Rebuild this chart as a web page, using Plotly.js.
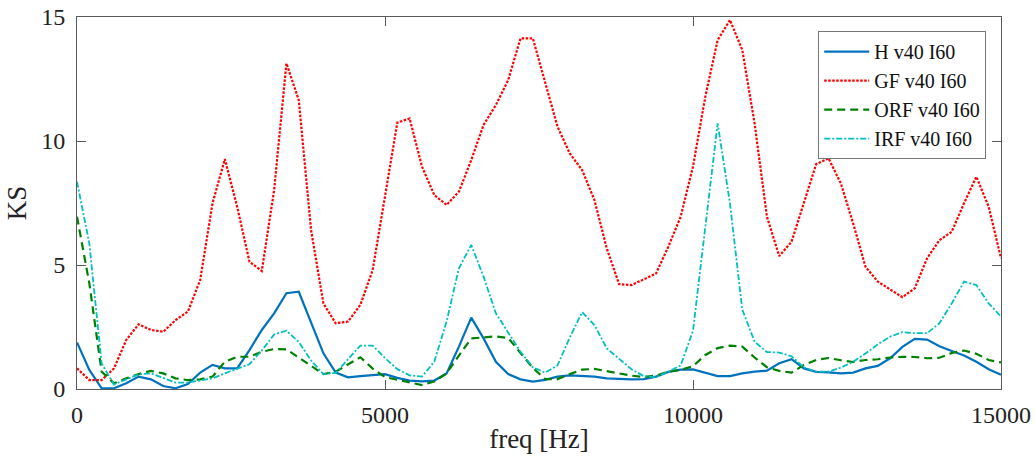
<!DOCTYPE html>
<html>
<head>
<meta charset="utf-8">
<script src="https://cdn.plot.ly/plotly-3.0.1.min.js"></script>
<style>html,body{margin:0;padding:0;background:#fff;}#chart{width:1035px;height:461px;}</style>
</head>
<body>
<div id="chart"></div>
<script>
const freq = [0,200,400,600,800,1000,1200,1400,1600,1800,2000,2200,2400,2600,2800,3000,3200,3400,3600,3800,
  4000,4200,4400,4600,4800,5000,5200,5400,5600,5800,6000,6200,6400,6600,6800,7000,7200,7400,7600,7800,
  8000,8200,8400,8600,8800,9000,9200,9400,9600,9800,10000,10200,10400,10600,10800,11000,11200,11400,11600,11800,
  12000,12200,12400,12600,12800,13000,13200,13400,13600,13800,14000,14200,14400,14600,14800,15000];

const H_v40 = [1.88,0.77,0.03,0.03,0.23,0.5,0.39,0.12,0.03,0.2,
  0.66,0.97,0.83,0.83,1.57,2.38,3.05,3.86,3.92,2.7,
  1.44,0.66,0.47,0.52,0.56,0.6,0.45,0.34,0.31,0.34,
  0.63,1.71,2.88,2.04,1.1,0.6,0.39,0.3,0.37,0.5,
  0.55,0.53,0.5,0.43,0.4,0.39,0.4,0.5,0.69,0.78,
  0.79,0.67,0.52,0.52,0.63,0.7,0.74,1.04,1.2,0.83,
  0.69,0.67,0.63,0.66,0.83,0.93,1.24,1.7,2.02,1.99,
  1.72,1.53,1.35,1.1,0.8,0.58];

const GF_v40 = [0.83,0.36,0.36,0.83,1.98,2.61,2.38,2.31,2.78,3.12,
  4.4,7.49,9.27,7.35,5.13,4.76,8.02,13.13,11.65,6.41,
  3.45,2.65,2.72,3.39,4.8,7.76,10.74,10.91,8.97,7.82,
  7.42,7.96,9.23,10.65,11.45,12.46,14.14,14.14,12.33,10.58,
  9.5,8.83,7.62,5.67,4.23,4.19,4.42,4.66,5.74,6.95,
  8.97,11.79,14.07,14.88,13.67,10.71,6.95,5.36,5.94,7.49,
  9.07,9.3,8.29,6.68,4.93,4.33,4.02,3.7,4.06,5.27,
  6.0,6.34,7.49,8.56,7.35,5.27];

const ORF_v40 = [6.95,4.26,0.7,0.23,0.43,0.6,0.73,0.63,0.43,0.36,
  0.39,0.5,1.1,1.3,1.3,1.5,1.61,1.6,1.27,0.92,
  0.6,0.7,1.0,1.28,0.82,0.48,0.37,0.26,0.16,0.3,
  0.63,1.35,2.04,2.08,2.12,2.06,1.47,0.85,0.4,0.4,
  0.6,0.78,0.81,0.72,0.62,0.54,0.48,0.54,0.7,0.77,
  0.92,1.37,1.65,1.75,1.71,1.27,0.88,0.73,0.66,0.97,
  1.17,1.25,1.16,1.09,1.17,1.2,1.27,1.3,1.29,1.24,
  1.26,1.45,1.55,1.42,1.17,1.07];

const IRF_v40 = [8.36,5.87,1.03,0.18,0.39,0.59,0.63,0.46,0.26,0.26,
  0.34,0.43,0.63,0.83,1.0,1.55,2.2,2.35,1.9,1.15,
  0.6,0.65,1.18,1.75,1.75,1.25,0.8,0.55,0.5,1.1,
  2.72,4.87,5.81,4.53,3.05,2.3,1.5,0.88,0.66,0.95,
  2.08,3.1,2.58,1.64,1.2,0.8,0.52,0.48,0.7,0.95,
  2.35,6.55,10.71,7.49,3.2,1.91,1.49,1.47,1.32,0.87,
  0.7,0.7,0.86,1.1,1.43,1.8,2.11,2.29,2.25,2.25,
  2.65,3.45,4.33,4.19,3.45,2.92];

const seriesNames = ["H v40 I60","GF v40 I60","ORF v40 I60","IRF v40 I60"];
const xTicks = [0,5000,10000,15000];
const yTicks = [0,5,10,15];

const serif = "Liberation Serif, Times New Roman, serif";

const traces = [
  {x: freq, y: H_v40, name: seriesNames[0], mode: "lines",
   line: {color: "#0072BD", width: 2.2, dash: "solid"}},
  {x: freq, y: GF_v40, name: seriesNames[1], mode: "lines",
   line: {color: "#FF0000", width: 2.2, dash: "2.5px,1.5px"}},
  {x: freq, y: ORF_v40, name: seriesNames[2], mode: "lines",
   line: {color: "#008000", width: 2.2, dash: "8px,5px"}},
  {x: freq, y: IRF_v40, name: seriesNames[3], mode: "lines",
   line: {color: "#00BFBF", width: 1.8, dash: "6px,2px,2px,2px"}}
];

const axisCommon = {
  showgrid: false, zeroline: false,
  showline: true, linecolor: "#5a5a5a", linewidth: 1, mirror: "ticks",
  ticks: "inside", ticklen: 9, tickcolor: "#5a5a5a", tickwidth: 1,
  tickfont: {family: serif, size: 24, color: "#222"}
};

const layout = {
  width: 1035, height: 461,
  margin: {l: 77, r: 34, t: 17, b: 72},
  paper_bgcolor: "#fff", plot_bgcolor: "#fff",
  showlegend: true,
  xaxis: Object.assign({}, axisCommon, {
    range: [0, 15000], tickvals: xTicks, ticktext: xTicks.map(String),
    ticklabelstandoff: 4,
    title: {text: "freq [Hz]", font: {family: serif, size: 27, color: "#222"}, standoff: 2}
  }),
  yaxis: Object.assign({}, axisCommon, {
    range: [0, 15], tickvals: yTicks, ticktext: yTicks.map(String),
    ticklabelstandoff: 6,
    title: {text: "KS", font: {family: serif, size: 27, color: "#222"}, standoff: 6}
  }),
  legend: {
    x: 0.984, xanchor: "right", xref: "paper",
    y: 0.962, yanchor: "top", yref: "paper",
    bgcolor: "#fff", bordercolor: "#777", borderwidth: 1,
    font: {family: serif, size: 20, color: "#111"},
    itemwidth: 45,
    tracegroupgap: 0
  }
};

Plotly.newPlot("chart", traces, layout, {displayModeBar: false, staticPlot: true});
</script>
</body>
</html>
